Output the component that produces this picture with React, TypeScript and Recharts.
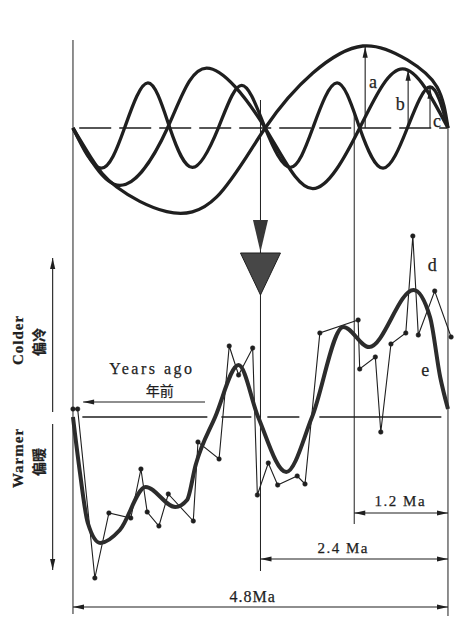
import React from 'react';
import { ComposedChart, Line, XAxis, YAxis, ReferenceLine, ReferenceDot } from 'recharts';

// ages in Ma (left = 4.8, right = 0); top panel in relative amplitude, bottom in relative temperature (up = colder)
const aAge = [4.8, 4.55, 4.24, 3.6, 2.96, 2.34, 1.73, 1.09, 0.52, 0.14, 0.0];
const aVal = [0, -0.39, -0.72, -1.02, -0.84, 0, 0.67, 1.0, 0.83, 0.5, 0];

const bAge = [4.8, 4.2, 3.59, 3.09, 2.34, 1.73, 1.13, 0.58, 0.0];
const bVal = [0, -0.7, 0, 0.73, 0, -0.74, 0, 0.72, 0];

const cAge = [4.8, 4.44, 4.14, 3.84, 3.56, 3.27, 2.94, 2.64, 2.34, 2.02, 1.73, 1.42, 1.13, 0.83, 0.52, 0.23, 0.0];
const cVal = [0, -0.49, 0, 0.55, 0, -0.48, 0, 0.52, 0, -0.48, 0, 0.55, 0, -0.49, 0, 0.5, 0];

const dAge = [4.8, 4.74, 4.52, 4.34, 4.06, 3.93, 3.85, 3.7, 3.58, 3.26, 3.2, 2.93, 2.8, 2.68, 2.5, 2.44,
  2.3, 2.18, 1.93, 1.83, 1.64, 1.15, 1.13, 0.93, 0.86, 0.73, 0.54, 0.45, 0.38, 0.17, -0.04];
const dVal = [0.16, 0.16, -3.22, -1.92, -2.02, -1.04, -1.9, -2.18, -1.54, -2.08, -0.5, -0.84, 1.42, 0.84, 1.38, -1.56,
  -0.92, -1.36, -1.18, -1.34, 1.68, 1.94, 0.96, 1.2, -0.3, 1.46, 1.68, 3.62, 1.64, 2.52, 1.6];

const eAge = [4.8, 4.71, 4.61, 4.45, 4.2, 3.87, 3.49, 3.34, 3.23, 2.98, 2.68, 2.43, 2.07, 1.74, 1.34, 1.01, 0.44, 0.23, 0.1, 0.0];
const eVal = [0, -1.12, -2.12, -2.52, -2.26, -1.4, -1.8, -1.66, -0.96, 0, 1.04, 0, -1.1, 0, 1.8, 1.4, 2.54, 2.0, 0.8, 0.16];

const spans = ['1.2 Ma', '2.4 Ma', '4.8Ma'];
const spanAges = [1.2, 2.4, 4.8];

const zip = (ages: number[], vals: number[]) => ages.map((age, i) => ({ age, v: vals[i] }));
const aData = zip(aAge, aVal);
const bData = zip(bAge, bVal);
const cData = zip(cAge, cVal);
const dData = zip(dAge, dVal);
const eData = zip(eAge, eVal);

const INK = '#1f1f1f';
const SERIF = '"Liberation Serif", "DejaVu Serif", serif';
const CJK = '"Noto Sans CJK SC", sans-serif';

function arrow(heads: 'start' | 'end' | 'both' | 'none', width = 1.1) {
  return (p: any) => {
    const { x1, y1, x2, y2 } = p;
    const dx = x2 - x1, dy = y2 - y1;
    const len = Math.hypot(dx, dy) || 1;
    const ux = dx / len, uy = dy / len;
    const L = 11, W = 2.6;
    const head = (tx: number, ty: number, sx: number, sy: number) =>
      `${tx},${ty} ${tx - sx * L - sy * W},${ty - sy * L + sx * W} ${tx - sx * L + sy * W},${ty - sy * L - sx * W}`;
    return (
      <g>
        <line x1={x1} y1={y1} x2={x2} y2={y2} stroke={INK} strokeWidth={width} />
        {(heads === 'end' || heads === 'both') && <polygon points={head(x2, y2, ux, uy)} fill={INK} />}
        {(heads === 'start' || heads === 'both') && <polygon points={head(x1, y1, -ux, -uy)} fill={INK} />}
      </g>
    );
  };
}

function label(txt: string, size = 16, opts: { rotate?: boolean; family?: string; spacing?: number; weight?: number } = {}) {
  return (p: any) => (
    <text
      x={p.cx}
      y={p.cy}
      textAnchor="middle"
      dominantBaseline="central"
      fontFamily={opts.family || SERIF}
      fontSize={size}
      fontWeight={opts.weight || 400}
      letterSpacing={opts.spacing || 0}
      fill={INK}
      stroke={INK}
      strokeWidth={0.25}
      transform={opts.rotate ? `rotate(-90 ${p.cx} ${p.cy})` : undefined}
    >
      {txt}
    </text>
  );
}

const Marker = (p: any) => {
  const { cx, cy } = p;
  return (
    <g>
      <polygon points={`${cx - 7.5},${cy - 33} ${cx + 7.5},${cy - 33} ${cx},${cy - 1}`} fill="#383838" />
      <polygon points={`${cx - 20},${cy} ${cx + 20},${cy} ${cx},${cy + 42}`} fill="#474747" stroke={INK} strokeWidth={1} />
    </g>
  );
};

export default function App() {
  return (
    <div style={{ width: 454, height: 620, background: '#fff' }}>
      <style>{'body{margin:0}'}</style>
      <ComposedChart width={454} height={620} margin={{ top: 0, right: 0, bottom: 0, left: 0 }}>
        <XAxis type="number" dataKey="age" domain={[-0.077, 5.734]} reversed hide allowDataOverflow />
        <YAxis yAxisId="top" type="number" domain={[-6.0, 1.561]} hide allowDataOverflow />
        <YAxis yAxisId="bot" type="number" domain={[-4.06, 8.34]} hide allowDataOverflow />

        {/* frame verticals */}
        <ReferenceLine yAxisId="bot" segment={[{ x: 4.8, y: 7.54 }, { x: 4.8, y: -3.94 }]} stroke={INK} strokeWidth={1} />
        <ReferenceLine yAxisId="bot" segment={[{ x: 2.4, y: 6.34 }, { x: 2.4, y: -3.08 }]} stroke={INK} strokeWidth={1} />
        <ReferenceLine yAxisId="bot" segment={[{ x: 1.2, y: 6.1 }, { x: 1.2, y: -2.14 }]} stroke={INK} strokeWidth={1} />
        <ReferenceLine yAxisId="bot" segment={[{ x: 0, y: 5.78 }, { x: 0, y: -3.98 }]} stroke={INK} strokeWidth={1} />

        {/* zero lines */}
        <ReferenceLine yAxisId="top" segment={[{ x: 4.72, y: 0 }, { x: 0.02, y: 0 }]} stroke={INK} strokeWidth={1.3} strokeDasharray="32 8" />
        <ReferenceLine yAxisId="bot" segment={[{ x: 4.68, y: 0 }, { x: 0.08, y: 0 }]} stroke={INK} strokeWidth={1.3} strokeDasharray="125 14 30 16 32 20 122" />

        {/* amplitude arrows */}
        <ReferenceLine yAxisId="top" segment={[{ x: 1.06, y: 0 }, { x: 1.06, y: 0.99 }]} shape={arrow('end')} />
        <ReferenceLine yAxisId="top" segment={[{ x: 0.51, y: 0 }, { x: 0.51, y: 0.71 }]} shape={arrow('end')} />
        <ReferenceLine yAxisId="top" segment={[{ x: 0.23, y: 0 }, { x: 0.23, y: 0.49 }]} shape={arrow('end')} />

        <Line yAxisId="top" data={aData} dataKey="v" type="natural" stroke={INK} strokeWidth={3.3} dot={false} activeDot={false} isAnimationActive={false} />
        <Line yAxisId="top" data={bData} dataKey="v" type="natural" stroke={INK} strokeWidth={3.3} dot={false} activeDot={false} isAnimationActive={false} />
        <Line yAxisId="top" data={cData} dataKey="v" type="natural" stroke={INK} strokeWidth={3.3} dot={false} activeDot={false} isAnimationActive={false} />

        <Line yAxisId="bot" data={dData} dataKey="v" type="linear" stroke={INK} strokeWidth={1.1}
          dot={{ r: 2.3, fill: INK, stroke: INK, strokeWidth: 0.5 }} activeDot={false} isAnimationActive={false} />
        <Line yAxisId="bot" data={eData} dataKey="v" type="monotone" stroke="#2c2c2c" strokeWidth={4} dot={false} activeDot={false} isAnimationActive={false} />

        <ReferenceDot yAxisId="bot" x={2.4} y={3.28} r={1} shape={Marker} />

        {/* span arrows */}
        <ReferenceLine yAxisId="bot" segment={[{ x: spanAges[0], y: -1.92 }, { x: 0, y: -1.92 }]} shape={arrow('both')} />
        <ReferenceLine yAxisId="bot" segment={[{ x: spanAges[1], y: -2.84 }, { x: 0, y: -2.84 }]} shape={arrow('both')} />
        <ReferenceLine yAxisId="bot" segment={[{ x: spanAges[2], y: -3.8 }, { x: 0, y: -3.8 }]} shape={arrow('both')} />
        <ReferenceDot yAxisId="bot" x={0.61} y={-1.68} r={1} shape={label(spans[0], 15, { spacing: 1.5 })} />
        <ReferenceDot yAxisId="bot" x={1.34} y={-2.62} r={1} shape={label(spans[1], 15, { spacing: 1.5 })} />
        <ReferenceDot yAxisId="bot" x={2.5} y={-3.58} r={1} shape={label(spans[2], 16, { spacing: 1 })} />

        {/* years ago */}
        <ReferenceLine yAxisId="bot" segment={[{ x: 3.11, y: 0.3 }, { x: 4.67, y: 0.3 }]} shape={arrow('end')} />
        <ReferenceDot yAxisId="bot" x={3.79} y={0.98} r={1} shape={label('Years ago', 16, { spacing: 2.5 })} />
        <ReferenceDot yAxisId="bot" x={3.69} y={0.54} r={1} shape={label('年前', 14, { family: CJK })} />

        {/* colder / warmer */}
        <ReferenceLine yAxisId="bot" segment={[{ x: 5.06, y: 0.1 }, { x: 5.06, y: 3.18 }]} shape={arrow('end')} />
        <ReferenceLine yAxisId="bot" segment={[{ x: 5.06, y: -0.14 }, { x: 5.06, y: -3.06 }]} shape={arrow('end')} />
        <ReferenceDot yAxisId="bot" x={5.5} y={1.54} r={1} shape={label('Colder', 15, { rotate: true, spacing: 1, weight: 700 })} />
        <ReferenceDot yAxisId="bot" x={5.25} y={1.5} r={1} shape={label('偏冷', 14, { rotate: true, family: CJK, weight: 700 })} />
        <ReferenceDot yAxisId="bot" x={5.5} y={-0.82} r={1} shape={label('Warmer', 15, { rotate: true, spacing: 1, weight: 700 })} />
        <ReferenceDot yAxisId="bot" x={5.25} y={-0.9} r={1} shape={label('偏暖', 14, { rotate: true, family: CJK, weight: 700 })} />

        {/* curve letters */}
        <ReferenceDot yAxisId="top" x={0.96} y={0.56} r={1} shape={label('a', 18)} />
        <ReferenceDot yAxisId="top" x={0.61} y={0.29} r={1} shape={label('b', 18)} />
        <ReferenceDot yAxisId="top" x={0.14} y={0.09} r={1} shape={label('c', 18)} />
        <ReferenceDot yAxisId="bot" x={0.2} y={3.04} r={1} shape={label('d', 18)} />
        <ReferenceDot yAxisId="bot" x={0.29} y={0.94} r={1} shape={label('e', 18)} />
      </ComposedChart>
    </div>
  );
}
